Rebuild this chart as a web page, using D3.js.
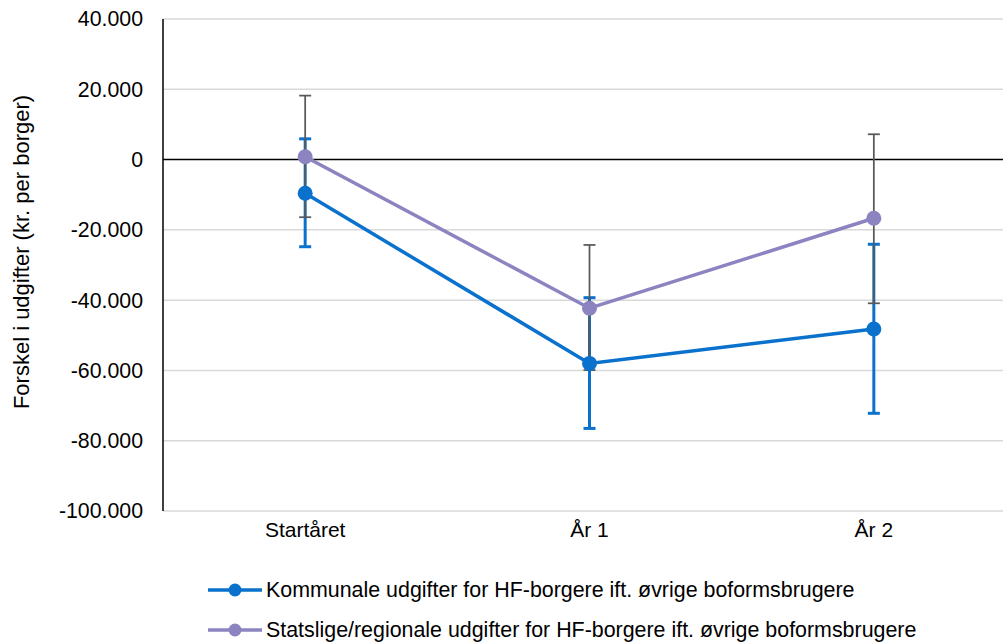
<!DOCTYPE html>
<html><head><meta charset="utf-8">
<script src="https://cdn.jsdelivr.net/npm/d3@7"></script>
<style>body{margin:0;background:#fff;} text{font-family:"Liberation Sans",Arial,sans-serif;fill:#000;}</style>
</head><body>
<svg id="c" width="1003" height="643"></svg>
<script>
const categories = ["Startåret", "År 1", "År 2"];
const seriesNames = ["Kommunale udgifter for HF-borgere ift. øvrige boformsbrugere",
                     "Statslige/regionale udgifter for HF-borgere ift. øvrige boformsbrugere"];
const kommunaleValues = [-9600, -58000, -48200];
const kommunaleUpper = [5900, -39300, -24100];
const kommunaleLower = [-24800, -76500, -72200];
const statsligeValues = [800, -42300, -16700];
const statsligeUpper = [18200, -24300, 7200];
const statsligeLower = [-16400, -59900, -40900];
const yTicks = [40000, 20000, 0, -20000, -40000, -60000, -80000, -100000];

const svg = d3.select("#c");
const pLeft = 163, pRight = 1016, pTop = 19, pBottom = 511;
const x = d3.scalePoint().domain(categories).range([pLeft, pRight]).padding(0.5);
const y = d3.scaleLinear().domain([-100000, 40000]).range([pBottom, pTop]);
const fmt = v => d3.format(",")(v).replace(/,/g, ".").replace("\u2212", "-");

// grid
svg.append("g").selectAll("line").data(yTicks.filter(d => d !== 0)).join("line")
  .attr("x1", pLeft).attr("x2", pRight).attr("y1", d => y(d)).attr("y2", d => y(d))
  .attr("stroke", "#d9d9d9").attr("stroke-width", 1.5);
// zero line
svg.append("line").attr("x1", pLeft).attr("x2", pRight).attr("y1", y(0)).attr("y2", y(0))
  .attr("stroke", "#000").attr("stroke-width", 1.5);
// y axis line
svg.append("line").attr("x1", pLeft).attr("x2", pLeft).attr("y1", pTop).attr("y2", pBottom)
  .attr("stroke", "#000").attr("stroke-width", 1.5);

// y tick labels
svg.append("g").selectAll("text").data(yTicks).join("text")
  .attr("x", 143).attr("y", d => y(d)).attr("dy", "0.35em").attr("text-anchor", "end")
  .attr("font-size", 21.3).text(d => fmt(d));
// x labels
svg.append("g").selectAll("text").data(categories).join("text")
  .attr("x", d => x(d)).attr("y", 537).attr("text-anchor", "middle")
  .attr("font-size", 21).text(d => d);
// y title
svg.append("text").attr("transform", "translate(29,252) rotate(-90)")
  .attr("text-anchor", "middle").attr("font-size", 22).text("Forskel i udgifter (kr. per borger)");

const blue = "#0a72cc", purple = "#8c84c0", gray = "#595959";
const line = d3.line().x((d, i) => x(categories[i])).y(d => y(d));
svg.append("path").attr("d", line(kommunaleValues)).attr("fill", "none").attr("stroke", blue).attr("stroke-width", 3.5);
svg.append("path").attr("d", line(statsligeValues)).attr("fill", "none").attr("stroke", purple).attr("stroke-width", 3.5);

function errorBars(upper, lower, color, w) {
  const g = svg.append("g").attr("stroke", color).attr("stroke-width", w);
  categories.forEach((c, i) => {
    const cx = x(c);
    g.append("line").attr("x1", cx).attr("x2", cx).attr("y1", y(upper[i])).attr("y2", y(lower[i]));
    [upper[i], lower[i]].forEach(v => g.append("line").attr("x1", cx - 6).attr("x2", cx + 6).attr("y1", y(v)).attr("y2", y(v)));
  });
}
errorBars(kommunaleUpper, kommunaleLower, blue, 3);
errorBars(statsligeUpper, statsligeLower, gray, 1.75);

svg.append("g").selectAll("circle").data(kommunaleValues).join("circle")
  .attr("cx", (d, i) => x(categories[i])).attr("cy", d => y(d)).attr("r", 7.5).attr("fill", blue);
svg.append("g").selectAll("circle").data(statsligeValues).join("circle")
  .attr("cx", (d, i) => x(categories[i])).attr("cy", d => y(d)).attr("r", 7.5).attr("fill", purple);

// legend
[blue, purple].forEach((col, i) => {
  const ly = 590 + i * 40;
  svg.append("line").attr("x1", 208).attr("x2", 262).attr("y1", ly).attr("y2", ly).attr("stroke", col).attr("stroke-width", 3.5);
  svg.append("circle").attr("cx", 235).attr("cy", ly).attr("r", 6.5).attr("fill", col);
  svg.append("text").attr("x", 266).attr("y", ly).attr("dy", "0.35em")
    .attr("font-size", 21.4).text(seriesNames[i]);
});
</script>
</body></html>
